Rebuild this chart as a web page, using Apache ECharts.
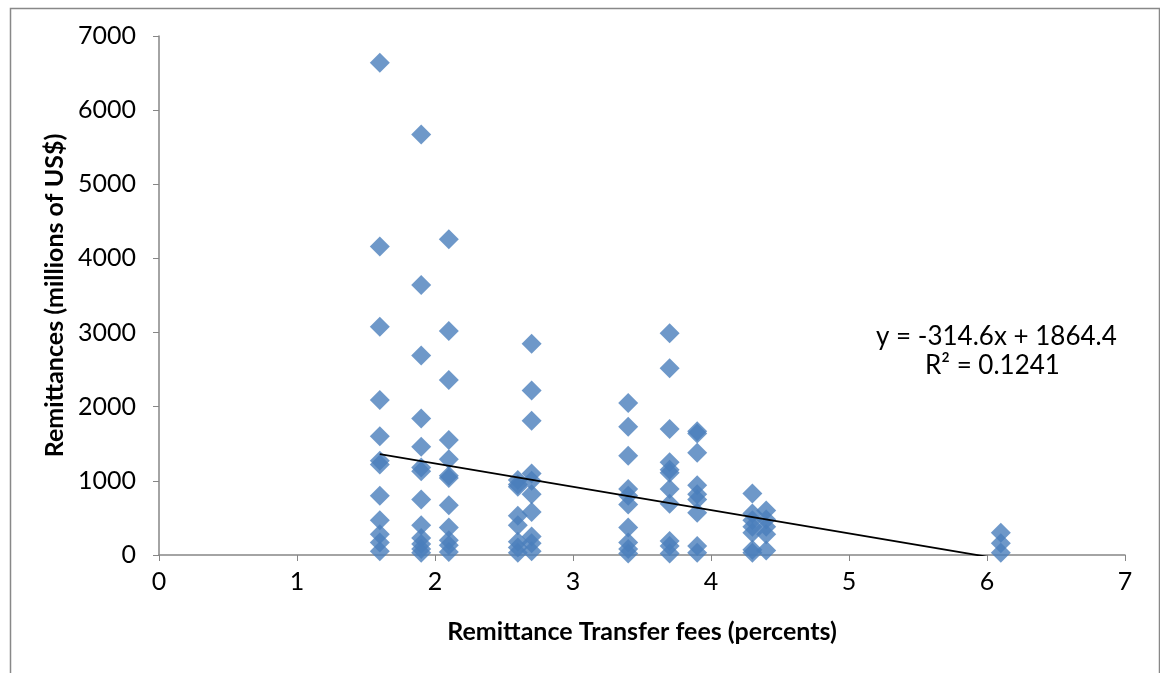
<!DOCTYPE html>
<html>
<head>
<meta charset="utf-8">
<script src="https://cdn.jsdelivr.net/npm/echarts@6/dist/echarts.min.js"></script>
<style>
  html, body { margin: 0; padding: 0; background: #fff; }
  #main { width: 1160px; height: 673px; }
</style>
</head>
<body>
<div id="main"></div>
<script>
// fee levels (percent) and remittances (millions of US$) observed at each level
var fees = [1.6, 1.9, 2.1, 2.6, 2.7, 3.4, 3.7, 3.9, 4.3, 4.4, 6.1];
var remit16 = [6640, 4160, 3080, 2090, 1600, 1270, 1220, 800, 470, 280, 170, 50];
var remit19 = [5670, 3640, 2690, 1840, 1460, 1180, 1130, 750, 400, 230, 150, 80, 30];
var remit21 = [4260, 3020, 2360, 1550, 1290, 1070, 1040, 670, 370, 200, 130, 40];
var remit26 = [1010, 950, 920, 530, 400, 180, 100, 30];
var remit27 = [2850, 2220, 1810, 1100, 1000, 820, 580, 250, 160, 50];
var remit34 = [2050, 1730, 1340, 890, 800, 680, 370, 170, 80, 20];
var remit37 = [2990, 2520, 1700, 1250, 1150, 1110, 890, 690, 190, 120, 20];
var remit39 = [1670, 1640, 1380, 940, 820, 750, 570, 120, 30];
var remit43 = [830, 560, 470, 380, 300, 70, 30];
var remit44 = [600, 480, 380, 280, 60];
var remit61 = [300, 160, 30];

// linear trend line from the reference
var slope = -314.6;
var intercept = 1864.4;
var rSquared = 0.1241;

var groups = [remit16, remit19, remit21, remit26, remit27, remit34,
              remit37, remit39, remit43, remit44, remit61];

var points = [];
groups.forEach(function (vals, i) {
    vals.forEach(function (v) { points.push([fees[i], v]); });
});

var xLo = fees[0], xHi = fees[fees.length - 1];
var trend = [[xLo, slope * xLo + intercept], [xHi, slope * xHi + intercept]];

var font = 'Lato, "Open Sans", sans-serif';
var chart = echarts.init(document.getElementById('main'));

chart.setOption({
    animation: false,
    backgroundColor: '#fff',
    grid: { left: 159, right: 35, top: 36, bottom: 118 },
    xAxis: {
        type: 'value', min: 0, max: 7, interval: 1,
        name: 'Remittance Transfer fees (percents)',
        nameLocation: 'middle', nameGap: 64,
        nameTextStyle: { fontFamily: font, fontSize: 25, fontWeight: 'bold', color: '#000' },
        axisLine: { lineStyle: { color: '#868686', width: 1.5 } },
        axisTick: { show: true, length: 6, lineStyle: { color: '#868686' } },
        axisLabel: { fontFamily: font, fontSize: 25, color: '#000', margin: 14 },
        splitLine: { show: false }
    },
    yAxis: {
        type: 'value', min: 0, max: 7000, interval: 1000,
        name: 'Remittances (millions of US$)',
        nameLocation: 'middle', nameGap: 89,
        nameTextStyle: { fontFamily: font, fontSize: 25, fontWeight: 'bold', color: '#000' },
        axisLine: { show: true, lineStyle: { color: '#868686', width: 1.5 } },
        axisTick: { show: true, length: 6, lineStyle: { color: '#868686' } },
        axisLabel: {
            fontFamily: font, fontSize: 25, color: '#000', margin: 23,
            formatter: function (v) { return String(v); }
        },
        splitLine: { show: false }
    },
    series: [
        {
            type: 'scatter',
            data: points,
            symbol: 'diamond',
            symbolSize: 20,
            itemStyle: { color: '#4a7ebb' },
            z: 2
        },
        {
            type: 'line',
            data: trend,
            symbol: 'none',
            clip: true,
            lineStyle: { color: '#000', width: 1.8 },
            z: 3
        }
    ],
    graphic: [
        {
            type: 'rect', left: 8, top: 6, z: -1,
            shape: { width: 1149, height: 672 },
            style: { fill: 'none', stroke: '#888', lineWidth: 1.5 }
        },
        {
            type: 'text', left: 876, top: 324,
            style: {
                text: 'y = ' + slope + 'x + ' + intercept,
                font: '26px ' + font, fill: '#000'
            }
        },
        {
            type: 'text', left: 925, top: 353,
            style: {
                text: 'R² = ' + rSquared,
                font: '26px ' + font, fill: '#000'
            }
        }
    ]
});
</script>
</body>
</html>
